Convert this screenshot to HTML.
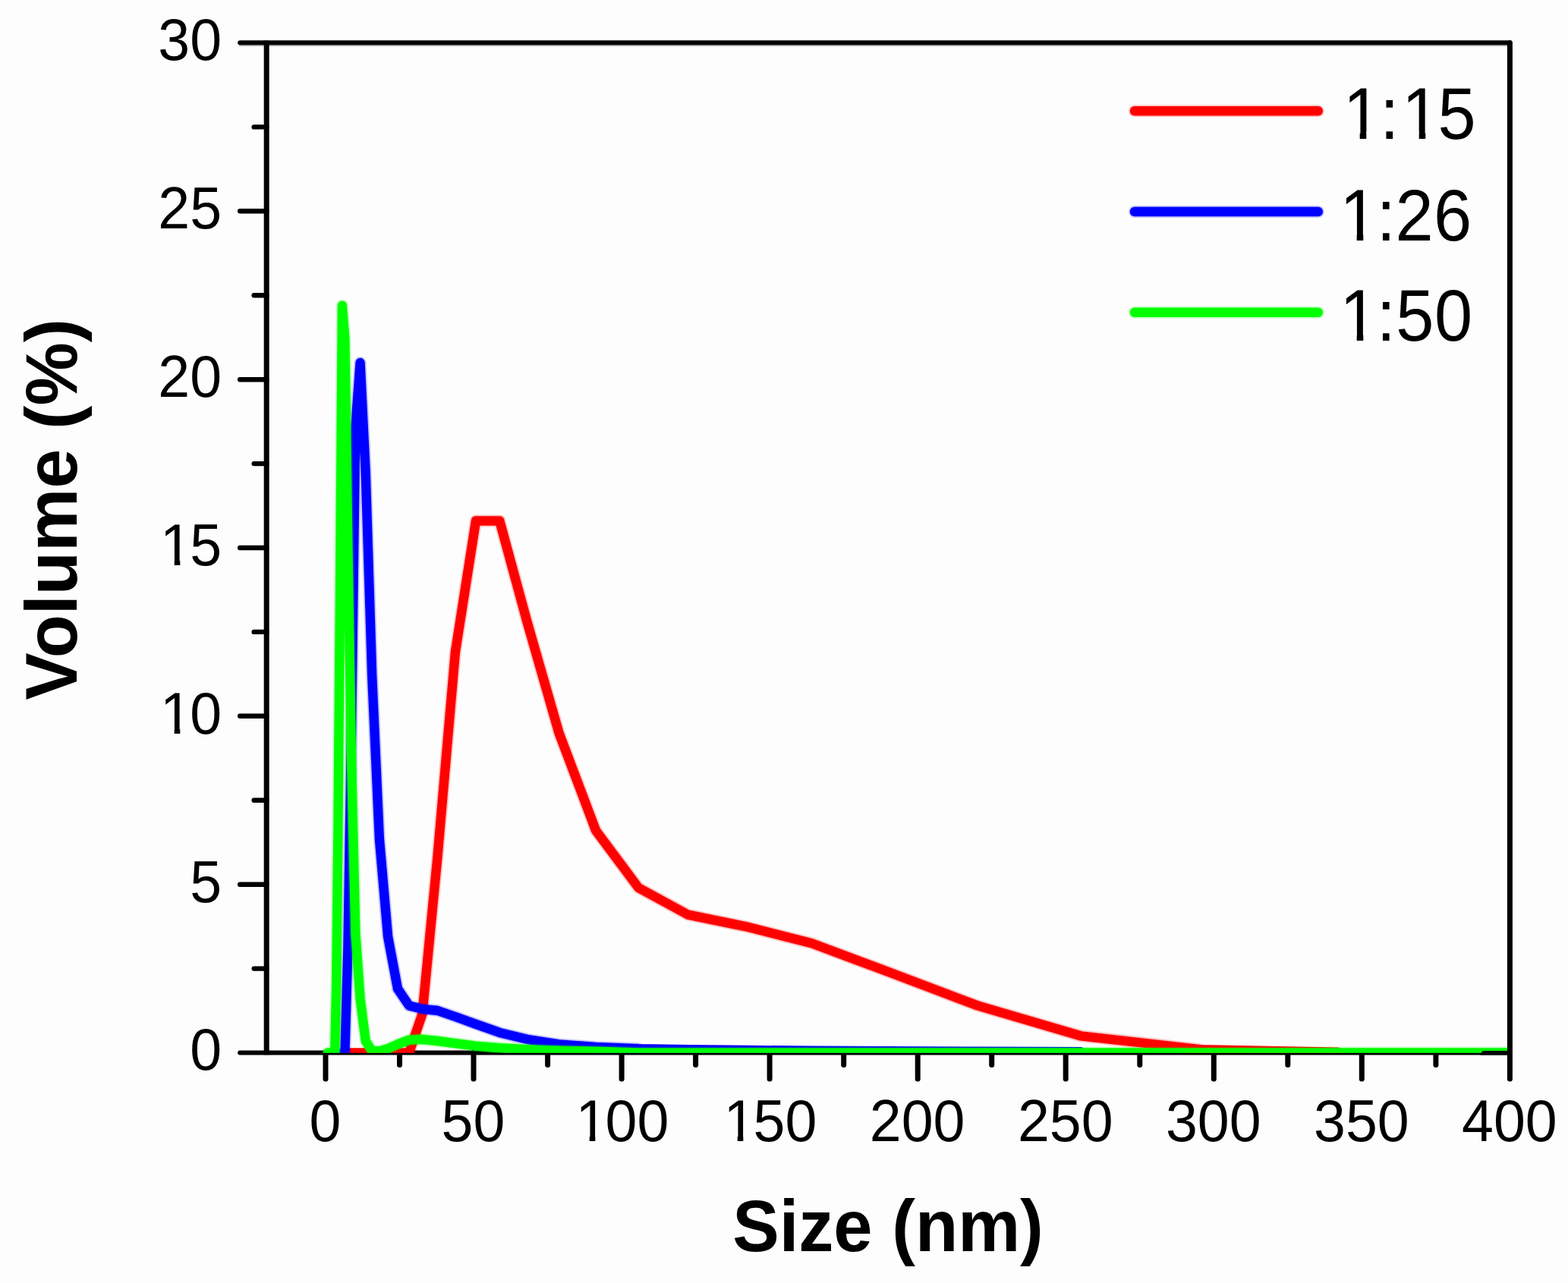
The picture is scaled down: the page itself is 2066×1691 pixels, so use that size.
<!DOCTYPE html>
<html lang="en">
<head>
<meta charset="utf-8">
<title>Size distribution by volume</title>
<style>
html,body{margin:0;padding:0;background:#fdfdfd;}
body{width:2066px;height:1691px;overflow:hidden;}
svg{display:block;}
#chart{width:2066px;height:1691px;}
</style>
</head>
<body>
<div id="chart">
<svg width="2066" height="1691" viewBox="0 0 2066 1691">
<rect x="0" y="0" width="2066" height="1691" fill="#fdfdfd"/>
<g stroke="#000" fill="none" stroke-linecap="butt">
<g stroke-width="6">
<line x1="315.2" y1="60.1" x2="1985.9" y2="60.1" stroke-opacity="0.28" stroke-width="2"/>
<line x1="316.2" y1="56.3" x2="1989.4" y2="56.3" stroke-linecap="round"/>
<line x1="316.2" y1="1387.6" x2="1989.4" y2="1387.6" stroke-linecap="round"/>
<g stroke-linecap="round" stroke-width="6.4">
<line x1="316.2" y1="1165.7" x2="351.2" y2="1165.7"/>
<line x1="316.2" y1="943.8" x2="351.2" y2="943.8"/>
<line x1="316.2" y1="722.0" x2="351.2" y2="722.0"/>
<line x1="316.2" y1="500.2" x2="351.2" y2="500.2"/>
<line x1="316.2" y1="278.3" x2="351.2" y2="278.3"/>
<line x1="334.7" y1="1276.6" x2="351.2" y2="1276.6"/>
<line x1="334.7" y1="1054.8" x2="351.2" y2="1054.8"/>
<line x1="334.7" y1="832.9" x2="351.2" y2="832.9"/>
<line x1="334.7" y1="611.1" x2="351.2" y2="611.1"/>
<line x1="334.7" y1="389.2" x2="351.2" y2="389.2"/>
<line x1="334.7" y1="167.4" x2="351.2" y2="167.4"/>
</g>
</g>
<g stroke-width="7">
<line x1="351.2" y1="53.5" x2="351.2" y2="1390.3"/>
<g stroke-linecap="round">
<line x1="1989.4" y1="56.5" x2="1989.4" y2="1422.1"/>
<line x1="429.0" y1="1387.6" x2="429.0" y2="1422.1"/>
<line x1="624.0" y1="1387.6" x2="624.0" y2="1422.1"/>
<line x1="819.1" y1="1387.6" x2="819.1" y2="1422.1"/>
<line x1="1014.1" y1="1387.6" x2="1014.1" y2="1422.1"/>
<line x1="1209.2" y1="1387.6" x2="1209.2" y2="1422.1"/>
<line x1="1404.2" y1="1387.6" x2="1404.2" y2="1422.1"/>
<line x1="1599.3" y1="1387.6" x2="1599.3" y2="1422.1"/>
<line x1="1794.3" y1="1387.6" x2="1794.3" y2="1422.1"/>
<line x1="526.5" y1="1387.6" x2="526.5" y2="1403.6"/>
<line x1="721.6" y1="1387.6" x2="721.6" y2="1403.6"/>
<line x1="916.6" y1="1387.6" x2="916.6" y2="1403.6"/>
<line x1="1111.7" y1="1387.6" x2="1111.7" y2="1403.6"/>
<line x1="1306.7" y1="1387.6" x2="1306.7" y2="1403.6"/>
<line x1="1501.8" y1="1387.6" x2="1501.8" y2="1403.6"/>
<line x1="1696.8" y1="1387.6" x2="1696.8" y2="1403.6"/>
<line x1="1891.9" y1="1387.6" x2="1891.9" y2="1403.6"/>
</g>
</g>
</g>
<clipPath id="c"><rect x="351.2" y="56.5" width="1634.8" height="1331.3"/></clipPath>
<g clip-path="url(#c)">
<polyline points="539.0,1387.5 556.4,1336.5 576.6,1128.0 599.9,859.5 627.0,686.5 658.3,686.5 694.5,819.6 736.5,966.0 785.1,1094.7 841.3,1170.1 906.5,1205.6 982.2,1221.1 1069.5,1243.3 1170.6,1281.0 1288.0,1325.4 1423.8,1365.3 1581.0,1383.1" fill="none" stroke="#ff0000" stroke-opacity="0.22" stroke-width="16" stroke-linejoin="round" stroke-linecap="round"/>
<polyline points="452.0,1387.5 454.4,1387.5 458.4,1387.5 463.0,1387.5 468.4,1387.5 474.6,1387.5 481.8,1387.5 490.2,1387.5 499.9,1387.5 511.1,1387.5 524.0,1387.5 539.0,1387.5 556.4,1336.5 576.6,1128.0 599.9,859.5 627.0,686.5 658.3,686.5 694.5,819.6 736.5,966.0 785.1,1094.7 841.3,1170.1 906.5,1205.6 982.2,1221.1 1069.5,1243.3 1170.6,1281.0 1288.0,1325.4 1423.8,1365.3 1581.0,1383.1 1763.1,1386.6" fill="none" stroke="#ff0000" stroke-width="12.4" stroke-linejoin="round" stroke-linecap="round"/>
<polyline points="454.4,1387.5 458.4,1250.0 463.0,966.0 468.4,562.3 474.6,478.0 481.8,624.4 490.2,890.6 499.9,1105.8 511.1,1234.4 524.0,1303.2 539.0,1325.4 556.4,1329.8 576.6,1332.0 599.9,1340.0 627.0,1349.8 658.3,1360.9 694.5,1369.8 736.5,1376.4 785.1,1380.0 841.3,1382.2" fill="none" stroke="#0000ff" stroke-opacity="0.22" stroke-width="16" stroke-linejoin="round" stroke-linecap="round"/>
<polyline points="451.5,1387.5 454.4,1387.5 458.4,1250.0 463.0,966.0 468.4,562.3 474.6,478.0 481.8,624.4 490.2,890.6 499.9,1105.8 511.1,1234.4 524.0,1303.2 539.0,1325.4 556.4,1329.8 576.6,1332.0 599.9,1340.0 627.0,1349.8 658.3,1360.9 694.5,1369.8 736.5,1376.4 785.1,1380.0 841.3,1382.2 906.5,1383.1 982.2,1384.0 1069.5,1384.8 1170.6,1385.3 1288.0,1385.7 1423.8,1386.2" fill="none" stroke="#0000ff" stroke-width="12.4" stroke-linejoin="round" stroke-linecap="round"/>
<polyline points="432.0,1387.5 432.8,1387.5 433.4,1387.5 434.0,1387.5 434.8,1387.5 435.8,1387.5 436.8,1387.5 438.1,1387.5 439.5,1387.5 441.2,1387.5 443.1,1303.2 445.3,1108.0 447.9,801.9 450.9,402.6 454.4,446.9 458.4,722.0 463.0,1001.5 468.4,1230.0 474.6,1316.5 481.8,1372.0 490.2,1385.3 499.9,1385.3 511.1,1382.2 524.0,1376.4 539.0,1370.6 556.4,1369.8 576.6,1372.0 599.9,1375.1 627.0,1378.6 658.3,1381.3 694.5,1383.1 736.5,1384.8 785.1,1385.7 841.3,1387.5 906.5,1387.5 982.2,1387.5 1069.5,1387.5 1170.6,1387.5 1288.0,1387.5 1423.8,1387.5 1581.0,1387.5 1763.1,1387.5 1974.2,1387.5 1989.4,1387.5" fill="none" stroke="#00ff00" stroke-opacity="0.22" stroke-width="16" stroke-linejoin="round" stroke-linecap="round"/>
<polyline points="432.0,1387.5 432.8,1387.5 433.4,1387.5 434.0,1387.5 434.8,1387.5 435.8,1387.5 436.8,1387.5 438.1,1387.5 439.5,1387.5 441.2,1387.5 443.1,1303.2 445.3,1108.0 447.9,801.9 450.9,402.6 454.4,446.9 458.4,722.0 463.0,1001.5 468.4,1230.0 474.6,1316.5 481.8,1372.0 490.2,1385.3 499.9,1385.3 511.1,1382.2 524.0,1376.4 539.0,1370.6 556.4,1369.8 576.6,1372.0 599.9,1375.1 627.0,1378.6 658.3,1381.3 694.5,1383.1 736.5,1384.8 785.1,1385.7 841.3,1387.5 906.5,1387.5 982.2,1387.5 1069.5,1387.5 1170.6,1387.5 1288.0,1387.5 1423.8,1387.5 1581.0,1387.5 1763.1,1387.5 1974.2,1387.5 1989.4,1387.5" fill="none" stroke="#00ff00" stroke-width="12.4" stroke-linejoin="round" stroke-linecap="round"/>
</g>
<path d="M1950.3 1390.6 L1953.3 1384.9 H1989.4 V1390.6 H1950.3 Z" fill="#000"/>
<g font-family="'Liberation Sans', sans-serif" font-size="78" fill="#000">
<text transform="translate(292.0,1410.4) scale(0.965,1)" text-anchor="end">0</text>
<text transform="translate(292.0,1188.6) scale(0.965,1)" text-anchor="end">5</text>
<text transform="translate(211.10,966.7) scale(0.965,1)" x="0.00 40.46">10</text>
<text transform="translate(211.10,744.9) scale(0.965,1)" x="0.00 40.46">15</text>
<text transform="translate(292.0,523.1) scale(0.965,1)" text-anchor="end">20</text>
<text transform="translate(292.0,301.2) scale(0.965,1)" text-anchor="end">25</text>
<text transform="translate(292.0,79.4) scale(0.965,1)" text-anchor="end">30</text>
<text transform="translate(428.4,1504.2) scale(0.965,1)" text-anchor="middle">0</text>
<text transform="translate(623.4,1504.2) scale(0.965,1)" text-anchor="middle">50</text>
<text transform="translate(758.52,1504.2) scale(0.965,1)" x="0.00 40.46 83.82">100</text>
<text transform="translate(953.52,1504.2) scale(0.965,1)" x="0.00 40.46 83.82">150</text>
<text transform="translate(1208.6,1504.2) scale(0.965,1)" text-anchor="middle">200</text>
<text transform="translate(1403.7,1504.2) scale(0.965,1)" text-anchor="middle">250</text>
<text transform="translate(1598.7,1504.2) scale(0.965,1)" text-anchor="middle">300</text>
<text transform="translate(1793.8,1504.2) scale(0.965,1)" text-anchor="middle">350</text>
<text transform="translate(1988.8,1504.2) scale(0.965,1)" text-anchor="middle">400</text>
</g>
<g font-family="'Liberation Sans', sans-serif" font-weight="bold" font-size="96" fill="#000">
<text transform="translate(1170,1649) scale(0.96,1)" text-anchor="middle">Size (nm)</text>
<text transform="translate(100.5,671.5) rotate(-90) scale(0.975,1)" text-anchor="middle">Volume (%)</text>
</g>
<rect x="1487" y="138.30" width="257.8" height="16" rx="8" fill="#ff0000" fill-opacity="0.22"/>
<rect x="1488.8" y="140.10" width="254.2" height="12.4" rx="6" fill="#ff0000"/>
<rect x="1487" y="271.00" width="257.8" height="16" rx="8" fill="#0000ff" fill-opacity="0.22"/>
<rect x="1488.8" y="272.80" width="254.2" height="12.4" rx="6" fill="#0000ff"/>
<rect x="1487" y="403.70" width="257.8" height="16" rx="8" fill="#00ff00" fill-opacity="0.22"/>
<rect x="1488.8" y="405.50" width="254.2" height="12.4" rx="6" fill="#00ff00"/>
<g font-family="'Liberation Sans', sans-serif" font-size="97" fill="#000">
<text transform="translate(1768.5,183.2) scale(0.93,1)" dx="1.29 -1.72 3.87 -2.69">1:15</text>
<text transform="translate(1764,316.5) scale(0.93,1)" dx="1.29 -1.72 -0.32 0.32">1:26</text>
<text transform="translate(1764,449) scale(0.93,1)" dx="1.29 -1.72 0.43 0.75">1:50</text>
</g>
<rect x="215" y="958.8" width="14.7" height="9.4" fill="#fdfdfd"/>
<rect x="237.3" y="958.8" width="12.7" height="9.4" fill="#fdfdfd"/>
<rect x="215" y="736.8" width="14.7" height="9.6" fill="#fdfdfd"/>
<rect x="237.3" y="736.8" width="12.7" height="9.6" fill="#fdfdfd"/>
<rect x="763" y="1495.8" width="13.7" height="9.9" fill="#fdfdfd"/>
<rect x="784.3" y="1495.8" width="13.7" height="9.9" fill="#fdfdfd"/>
<rect x="958" y="1495.8" width="13.7" height="9.9" fill="#fdfdfd"/>
<rect x="979.3" y="1495.8" width="13.7" height="9.9" fill="#fdfdfd"/>
<rect x="1775" y="173.8" width="16.7" height="10.9" fill="#fdfdfd"/>
<rect x="1800.3" y="173.8" width="16.7" height="10.9" fill="#fdfdfd"/>
<rect x="1853" y="173.8" width="16.7" height="10.9" fill="#fdfdfd"/>
<rect x="1878.3" y="173.8" width="15.7" height="10.9" fill="#fdfdfd"/>
<rect x="1771" y="307.8" width="16.7" height="10.2" fill="#fdfdfd"/>
<rect x="1796.3" y="307.8" width="15.7" height="10.2" fill="#fdfdfd"/>
<rect x="1771" y="439.8" width="16.7" height="10.7" fill="#fdfdfd"/>
<rect x="1796.3" y="439.8" width="15.7" height="10.7" fill="#fdfdfd"/>
</svg>
</div>
</body>
</html>
